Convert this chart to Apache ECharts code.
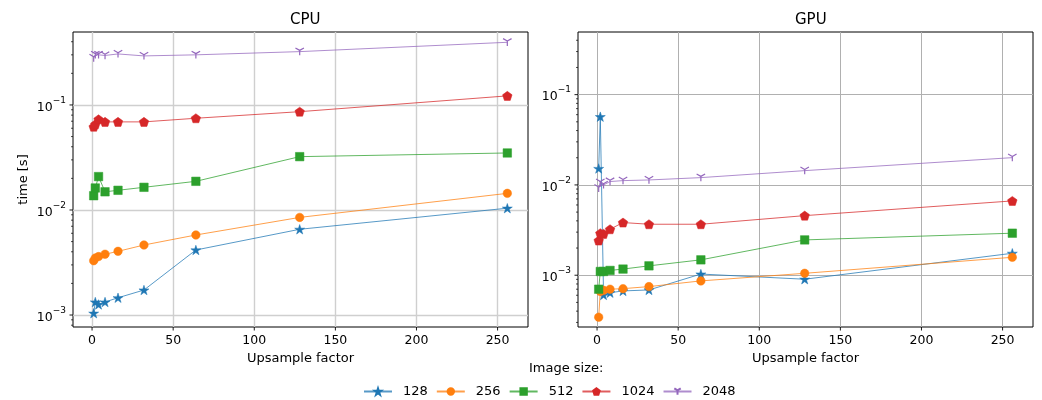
<!DOCTYPE html>
<html>
<head>
<meta charset="utf-8">
<script src="https://cdn.jsdelivr.net/npm/echarts@6/dist/echarts.min.js"></script>
<style>
html,body{margin:0;padding:0;background:#fff;}
#chart{width:1042px;height:400px;}
</style>
</head>
<body>
<div id="chart"></div>
<script>
// ---- data ----
const upsampleFactors = [1, 2, 4, 8, 16, 32, 64, 128, 256];
const imageSizes = ['128', '256', '512', '1024', '2048'];

const cpu128  = [0.00104, 0.00133, 0.00126, 0.00133, 0.00146, 0.00173, 0.00416, 0.00655, 0.0104];
const cpu256  = [0.00329, 0.00349, 0.0036, 0.00379, 0.00404, 0.00464, 0.00578, 0.0085, 0.0144];
const cpu512  = [0.01367, 0.0162, 0.0208, 0.0149, 0.0154, 0.01644, 0.01875, 0.0322, 0.0349];
const cpu1024 = [0.062, 0.0655, 0.073, 0.069, 0.069, 0.069, 0.0747, 0.0863, 0.122];
const cpu2048 = [0.28, 0.30, 0.30, 0.296, 0.306, 0.293, 0.30, 0.322, 0.395];

const gpu128  = [0.0152, 0.057, 0.000605, 0.00064, 0.00067, 0.000687, 0.00103, 0.000903, 0.00175];
const gpu256  = [0.000343, 0.00066, 0.00068, 0.0007, 0.00071, 0.000748, 0.000865, 0.00105, 0.00158];
const gpu512  = [0.0007, 0.0011, 0.0011, 0.00113, 0.00117, 0.00127, 0.00148, 0.00246, 0.00292];
const gpu1024 = [0.00242, 0.00292, 0.00287, 0.00323, 0.00383, 0.00367, 0.00367, 0.00457, 0.00665];
const gpu2048 = [0.0092, 0.0106, 0.0100, 0.0109, 0.01116, 0.01135, 0.01205, 0.0144, 0.02005];

const xTicks = [0, 50, 100, 150, 200, 250];
const yMajorTicks = [0.001, 0.01, 0.1];

// ---- styling ----
const FONT = 'DejaVu Sans';
const colors = ['#1f77b4', '#ff7f0e', '#2ca02c', '#d62728', '#9467bd'];
const symbols = [
  'path://M0,-100L22.45,-30.9L95.1,-30.9L36.33,11.8L58.78,80.9L0,38.2L-58.78,80.9L-36.33,11.8L-95.1,-30.9L-22.45,-30.9Z',
  'circle',
  'rect',
  'path://M0,-100L95.1,-30.9L58.78,80.9L-58.78,80.9L-95.1,-30.9Z',
  'path://M0,0L0,100M0,0L-86.6,-50M0,0L86.6,-50'
];
const symbolSizes = [10, 8.5, 8.5, 9.5, 8.5];

const xRange = [-11.75, 268.75];
const yRanges = [[0.000769, 0.495], [0.000267, 0.494]];
const panels = [
  {title: 'CPU', data: [cpu128, cpu256, cpu512, cpu1024, cpu2048], gridColor: '#cfcfcf', gridWidth: 1.4},
  {title: 'GPU', data: [gpu128, gpu256, gpu512, gpu1024, gpu2048], gridColor: '#b0b0b0', gridWidth: 1}
];

function supLabel(v) {
  const e = Math.round(Math.log10(v));
  return '{b|10}{e|' + (e < 0 ? '\u2212' : '') + Math.abs(e) + '}';
}

function minorTicks(range) {
  const out = [];
  for (let k = -5; k <= 1; k++) {
    for (let m = 2; m <= 9; m++) {
      const v = m * Math.pow(10, k);
      if (v > range[0] && v < range[1]) out.push(v);
    }
  }
  return out;
}

const grids = [
  {left: 73, top: 32, width: 455, height: 295},
  {left: 578, top: 32, width: 455, height: 295}
].map(g => Object.assign(g, {show: true, borderColor: '#000', borderWidth: 1, backgroundColor: 'rgba(0,0,0,0)', containLabel: false}));

const xAxes = panels.map((p, i) => ({
  type: 'value', gridIndex: i, min: xRange[0], max: xRange[1],
  name: 'Upsample factor', nameLocation: 'middle', nameGap: 25,
  nameTextStyle: {fontFamily: FONT, fontSize: 13, color: '#000'},
  axisLine: {show: false}, axisTick: {show: false},
  axisLabel: {showMinLabel: false, showMaxLabel: false, margin: 7, fontFamily: FONT, fontSize: 12.5, color: '#000'},
  splitLine: {show: true, showMinLine: false, showMaxLine: false, lineStyle: {color: p.gridColor, width: p.gridWidth}}
}));

const yAxes = panels.map((p, i) => ({
  type: 'log', logBase: 10, gridIndex: i, min: yRanges[i][0], max: yRanges[i][1],
  name: i === 0 ? 'time [s]' : '', nameLocation: 'middle', nameGap: 43, nameRotate: 90,
  nameTextStyle: {fontFamily: FONT, fontSize: 13, color: '#000'},
  axisLine: {show: false}, axisTick: {show: false},
  axisLabel: {
    showMinLabel: false, showMaxLabel: false, margin: 7, color: '#000',
    formatter: supLabel,
    rich: {
      b: {fontFamily: FONT, fontSize: 12.5, lineHeight: 18, verticalAlign: 'bottom', color: '#000'},
      e: {fontFamily: FONT, fontSize: 9, lineHeight: 18, verticalAlign: 'top', color: '#000', padding: [0, 0, 6, 0]}
    }
  },
  splitLine: {show: true, showMinLine: false, showMaxLine: false, lineStyle: {color: p.gridColor, width: p.gridWidth}}
}));

const series = [];
panels.forEach((p, gi) => {
  p.data.forEach((vals, si) => {
    series.push({
      type: 'line', name: imageSizes[si], xAxisIndex: gi, yAxisIndex: gi,
      data: upsampleFactors.map((x, k) => [x, vals[k]]),
      symbol: symbols[si], symbolSize: symbolSizes[si], symbolKeepAspect: true,
      showAllSymbol: true,
      lineStyle: {color: colors[si], width: 1, opacity: 0.75},
      itemStyle: si === 4
        ? {color: colors[si], borderColor: colors[si], borderWidth: 1.2}
        : {color: colors[si], borderColor: colors[si], borderWidth: 0.5},
      emphasis: {disabled: true},
      z: 3
    });
  });
  // tick marks drawn through the axes' own scales
  const tickData = []
    .concat(xTicks.map(v => [v, yRanges[gi][0], 0]))
    .concat(yMajorTicks.filter(v => v > yRanges[gi][0] && v < yRanges[gi][1]).map(v => [xRange[0], v, 1]))
    .concat(minorTicks(yRanges[gi]).map(v => [xRange[0], v, 2]));
  series.push({
    type: 'custom', xAxisIndex: gi, yAxisIndex: gi, silent: true, clip: false, z: 5,
    data: tickData,
    renderItem: function (params, api) {
      const pt = api.coord([api.value(0), api.value(1)]);
      const kind = api.value(2);
      if (kind === 0) {
        return {type: 'line', shape: {x1: pt[0], y1: pt[1], x2: pt[0], y2: pt[1] + 3.5}, style: {stroke: '#000', lineWidth: 0.9}};
      } else if (kind === 1) {
        return {type: 'line', shape: {x1: pt[0] - 3.5, y1: pt[1], x2: pt[0], y2: pt[1]}, style: {stroke: '#000', lineWidth: 0.9}};
      }
      return {type: 'line', shape: {x1: pt[0] - 2, y1: pt[1], x2: pt[0], y2: pt[1]}, style: {stroke: '#000', lineWidth: 0.7}};
    }
  });
});

const option = {
  animation: false,
  backgroundColor: '#fff',
  textStyle: {fontFamily: FONT},
  title: [
    {text: 'CPU', left: 285, top: 8, textStyle: {fontFamily: FONT, fontSize: 15, fontWeight: 'normal', color: '#000'}},
    {text: 'GPU', left: 790, top: 8, textStyle: {fontFamily: FONT, fontSize: 15, fontWeight: 'normal', color: '#000'}},
    {text: 'Image size:', left: 524, top: 357, textStyle: {fontFamily: FONT, fontSize: 13, fontWeight: 'normal', color: '#000'}}
  ],
  legend: {
    data: imageSizes, left: 358, top: 380, itemWidth: 28, itemHeight: 8, itemGap: 8,
    textStyle: {fontFamily: FONT, fontSize: 13, color: '#000', padding: [0, 0, 0, 6]},
    selectedMode: false
  },
  grid: grids,
  xAxis: xAxes,
  yAxis: yAxes,
  series: series
};

const chart = echarts.init(document.getElementById('chart'), null, {renderer: 'canvas'});
chart.setOption(option);
</script>
</body>
</html>
